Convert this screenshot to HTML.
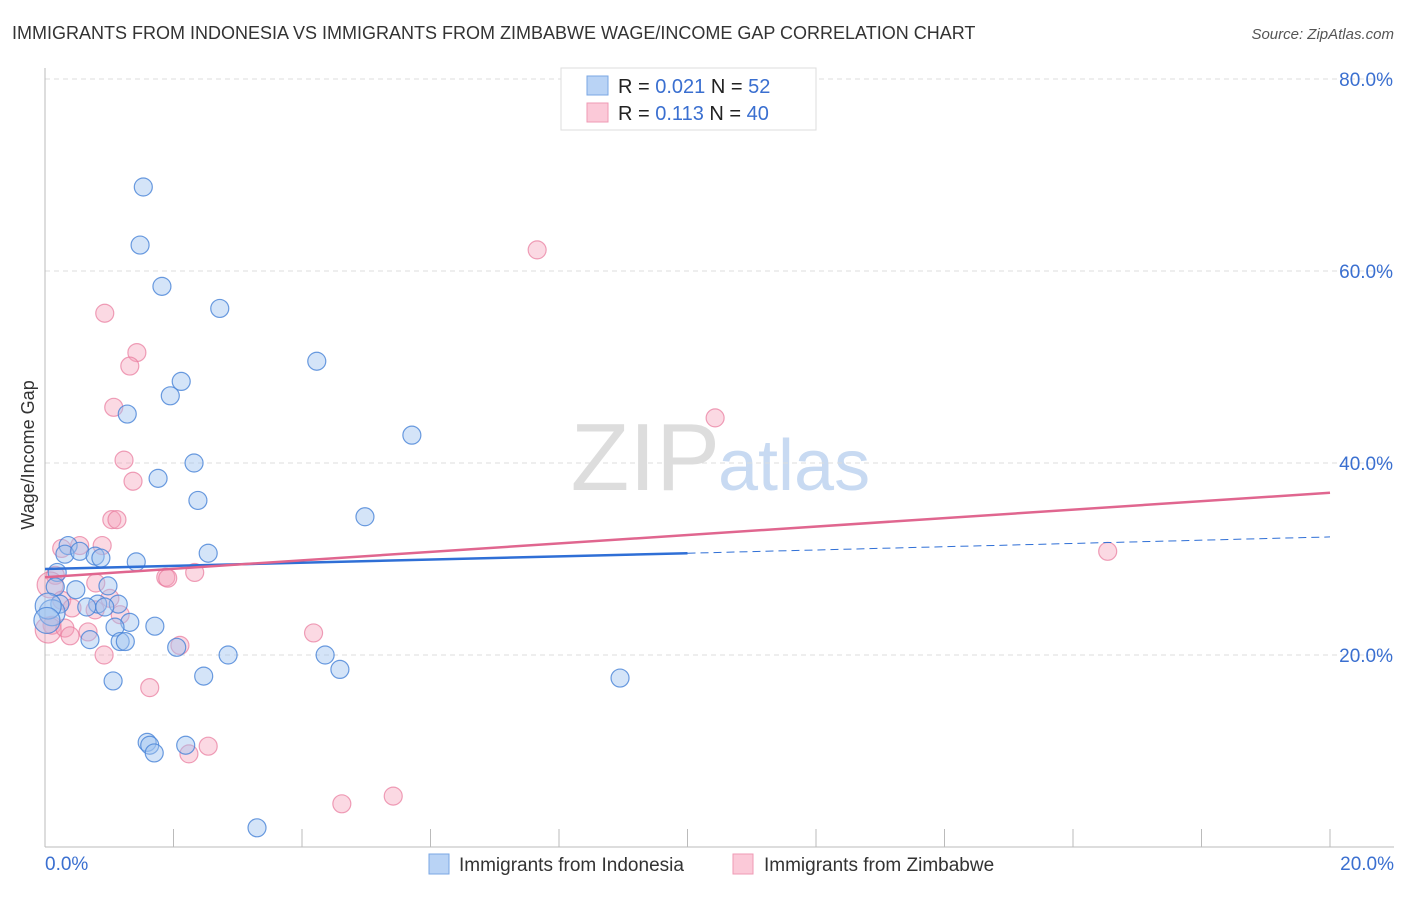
<!DOCTYPE html>
<html><head><meta charset="utf-8"><style>
body{margin:0;background:#fff;font-family:"Liberation Sans",sans-serif}
svg text{font-family:"Liberation Sans",sans-serif}
</style></head><body>
<svg width="1406" height="892" id="c">
<text x="12" y="39" font-size="18" fill="#333">IMMIGRANTS FROM INDONESIA VS IMMIGRANTS FROM ZIMBABWE WAGE/INCOME GAP CORRELATION CHART</text>
<text x="1394" y="39" font-size="15" fill="#555" text-anchor="end" font-style="italic">Source: ZipAtlas.com</text>
<text x="720" y="490" font-size="96" fill="#ddd" text-anchor="end" font-family="Liberation Serif">ZIP</text>
<text x="718" y="490" font-size="72" fill="#c8daf2">atlas</text>
<text transform="translate(34,455) rotate(-90)" font-size="18" fill="#333" text-anchor="middle">Wage/Income Gap</text>
<g id="grid"></g><g id="pts"></g><g id="lines"></g>
<g>
<rect x="561" y="68" width="255" height="62" fill="#fff" stroke="#ddd"/>
<rect x="587" y="76" width="21" height="19" fill="#b9d3f5" stroke="#7aa7e4"/>
<rect x="587" y="103" width="21" height="19" fill="#fbc9d8" stroke="#ef9ab4"/>
<text x="618" y="93" font-size="20" fill="#222">R = <tspan fill="#3a6fd0">0.021</tspan>  N = <tspan fill="#3a6fd0"> 52</tspan></text>
<text x="618" y="120" font-size="20" fill="#222">R = <tspan fill="#3a6fd0"> 0.113</tspan>  N = <tspan fill="#3a6fd0">40</tspan></text>
</g>
<g>
<rect x="429" y="854" width="20" height="20" fill="#b9d3f5" stroke="#7aa7e4"/>
<text x="459" y="871" font-size="19" fill="#333">Immigrants from Indonesia</text>
<rect x="733" y="854" width="20" height="20" fill="#fbc9d8" stroke="#ef9ab4"/>
<text x="764" y="871" font-size="19" fill="#333">Immigrants from Zimbabwe</text>
</g>
</svg>
<script>
const blueX=[1.53,1.48,1.82,2.72,4.23,2.12,1.95,1.28,5.71,2.32,1.76,2.38,4.98,0.36,0.31,0.54,0.78,0.87,2.54,1.42,0.19,0.16,0.48,0.98,0.23,0.82,1.14,0.65,0.93,0.11,1.32,1.09,1.71,0.70,1.17,1.25,2.05,2.85,4.36,4.59,2.47,1.06,8.95,1.59,1.63,1.70,2.19,3.30,0.05,0.03];
const blueY=[68.75,62.7,58.4,56.1,50.6,48.5,47.0,45.1,42.9,40.0,38.4,36.1,34.4,31.4,30.5,30.8,30.3,30.1,30.6,29.7,28.6,27.1,26.8,27.2,25.3,25.3,25.3,25.0,25.0,24.4,23.4,22.9,23.0,21.6,21.4,21.4,20.8,20.0,20.0,18.5,17.8,17.3,17.6,10.9,10.6,9.8,10.6,2.0,25.1,23.6];
const pinkX=[7.66,0.93,1.43,1.32,1.07,10.43,1.23,1.37,1.04,1.12,16.54,0.54,0.89,0.26,0.16,1.88,1.91,2.33,0.79,0.08,0.26,0.42,0.78,1.17,0.11,0.05,0.31,0.67,0.39,4.18,2.10,0.92,1.63,2.54,2.24,4.62,5.42,1.01];
const pinkY=[62.2,55.6,51.5,50.1,45.8,44.7,40.3,38.1,34.1,34.1,30.8,31.4,31.4,31.1,28.3,28.1,28.0,28.6,27.5,27.3,25.7,24.9,24.7,24.2,23.1,22.6,22.8,22.4,22.0,22.3,21.0,20.0,16.6,10.5,9.7,4.5,5.3,25.9];
const yTicks=[20,40,60,80];
const yTickLabels=["20.0%","40.0%","60.0%","80.0%"];
const blueTrend=[28.96,30.6,32.3];
const pinkTrend=[28.1,36.9];
const NS="http://www.w3.org/2000/svg";
const sx=v=>45+v*64.25, sy=v=>847-v*9.6;
function mk(t,a,p){const e=document.createElementNS(NS,t);for(const k in a)e.setAttribute(k,a[k]);document.getElementById(p).appendChild(e);return e;}
yTicks.forEach((t,i)=>{
 const g=mk('line',{x1:45,x2:1394,y1:sy(t),y2:sy(t),stroke:'#ddd','stroke-dasharray':'5,4'},'grid');
 
 
 const l=mk('text',{x:1393,y:sy(t)+7,'font-size':19,fill:'#3a6fd0','text-anchor':'end'},'grid');l.textContent=yTickLabels[i];
 
 
});
mk('line',{x1:45,x2:45,y1:68,y2:847,stroke:'#bbb'},'grid');
mk('line',{x1:45,x2:1394,y1:847,y2:847,stroke:'#bbb'},'grid');
for(let i=0;i<=10;i++){const t=mk('line',{x1:sx(i*2),x2:sx(i*2),y1:829,y2:847,stroke:'#bbb'},'grid');
 
 }
[["0.0%",45,"start"],["20.0%",1394,"end"]].forEach(a=>{const t=mk('text',{x:a[1],y:870,'font-size':19,fill:'#3a6fd0','text-anchor':a[2]},'grid');t.textContent=a[0];
 
 });
pinkX.forEach((x,i)=>{const c=mk('circle',{cx:sx(x),cy:sy(pinkY[i]),r:(x<0.1?13:9),fill:'rgba(246,160,186,0.4)',stroke:'rgba(232,120,155,0.7)','stroke-width':1.2},'pts');
 
 });
blueX.forEach((x,i)=>{const c=mk('circle',{cx:sx(x),cy:sy(blueY[i]),r:(x<0.12?13:9),fill:'rgba(160,196,240,0.45)',stroke:'rgba(70,130,215,0.8)','stroke-width':1.2},'pts');
 
 });
const b1=mk('line',{x1:sx(0),y1:sy(blueTrend[0]),x2:sx(10),y2:sy(blueTrend[1]),stroke:'#2f6fd6','stroke-width':2.5},'lines');


const b2=mk('line',{x1:sx(10),y1:sy(blueTrend[1]),x2:sx(20),y2:sy(blueTrend[2]),stroke:'#2f6fd6','stroke-width':1,'stroke-dasharray':'8,5'},'lines');


const p1=mk('line',{x1:sx(0),y1:sy(pinkTrend[0]),x2:sx(20),y2:sy(pinkTrend[1]),stroke:'#e0668f','stroke-width':2.5},'lines');


</script>
</body></html>
